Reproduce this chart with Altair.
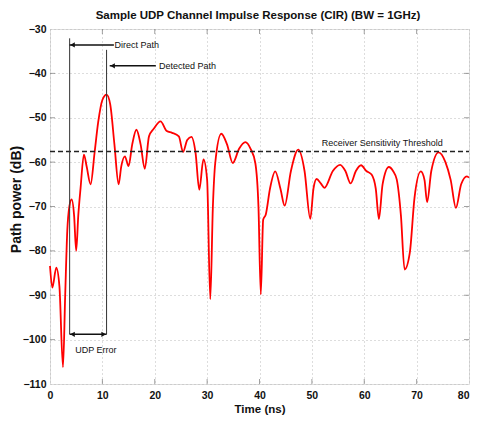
import altair as alt
import pandas as pd

# ---- data ----
time_ns = [0, 0.45, 1.2, 1.8, 2.48, 2.9, 3.3, 3.7, 4.13, 4.6, 5.0, 5.4, 5.84, 6.48, 7.0, 7.75,
           8.5, 9.2, 10.0, 10.8, 11.5, 12.3, 13.1, 13.6, 14.3, 15.0, 15.7, 16.5, 17.3, 18.1,
           18.9, 19.8, 21.1, 22.3, 23.3, 24.6, 25.4, 26.2, 27.0, 27.8, 28.5, 29.3, 30.0, 30.6,
           31.1, 31.55, 32.7, 33.8, 34.9, 36.1, 37.3, 38.3, 39.2, 39.8, 40.25, 40.7, 41.2, 42.0,
           43.0, 44.0, 44.8, 46.0, 47.4, 48.6, 49.7, 50.3, 50.9, 51.7, 52.4, 54.0, 55.4, 56.4,
           57.4, 58.4, 59.4, 60.4, 61.4, 62.2, 62.8, 63.5, 64.7, 65.5, 66.2, 67.0, 67.7, 68.7,
           69.6, 70.8, 71.5, 72.0, 72.8, 74.2, 75.5, 76.5, 77.5, 78.5, 79.6, 80.0]
power_db = [-83.4, -88.3, -83.8, -88.0, -106.2, -90.0, -75.5, -70.0, -68.4, -72.0, -80.0, -72.0,
            -65.8, -58.3, -61.0, -65.0, -58.0, -51.0, -46.0, -44.8, -47.0, -56.0, -65.0, -61.0,
            -58.7, -60.9, -56.0, -52.7, -56.0, -61.5, -54.2, -52.5, -50.8, -53.0, -53.4, -54.2,
            -57.7, -55.0, -54.3, -58.0, -66.2, -59.4, -64.0, -90.9, -70.0, -60.2, -53.6, -56.0,
            -60.2, -57.0, -55.5, -57.0, -60.2, -70.0, -89.8, -73.0, -71.8, -66.0, -62.1, -66.0,
            -69.8, -62.0, -57.2, -62.0, -72.8, -66.0, -63.8, -64.8, -65.8, -62.0, -60.6, -62.0,
            -64.8, -62.0, -60.7, -62.0, -62.8, -66.0, -72.8, -65.0, -61.1, -62.0, -63.9, -72.0,
            -84.2, -80.4, -68.0, -62.1, -64.0, -69.0, -62.0, -57.8, -60.0, -64.0, -70.3, -65.0,
            -63.2, -63.5]

threshold_db = -57.6
x_ticks = [0, 10, 20, 30, 40, 50, 60, 70, 80]
y_ticks = [-30, -40, -50, -60, -70, -80, -90, -100, -110]

# vertical markers: direct path and detected path
marker_t = [3.75, 10.8]
marker_top = [-32.1, -34.7]
marker_bottom = [-98.8, -98.8]

# arrows (start, end, level)
arrow_t1 = [3.75, 11.4, 3.75]
arrow_t2 = [12.2, 20.2, 10.8]
arrow_v = [-33.6, -38.3, -98.8]

# labels
label_text = ["Direct Path", "Detected Path", "Receiver Sensitivity Threshold", "UDP Error"]
label_t = [12.3, 20.8, 51.9, 4.8]
label_v = [-33.6, -38.3, -55.6, -102.4]

# arrowheads
head_t = [4.3, 11.95, 4.3, 10.25]
head_v = [-33.6, -38.3, -98.8, -98.8]
head_shape = ["triangle-left", "triangle-left", "triangle-left", "triangle-right"]

FONT = "Liberation Sans, Arial"
W, H = 419, 355

curve = pd.DataFrame({"t": time_ns, "p": power_db})
xs = alt.Scale(domain=[0, 80], nice=False, zero=False)
ys = alt.Scale(domain=[-110, -30], nice=False, zero=False)

x_axis = alt.Axis(values=x_ticks, grid=True, gridDash=[1, 3], gridColor="#bbbbbb",
                  tickSize=0, domain=False, labelFont=FONT, labelFontSize=10.5,
                  labelFontWeight="bold", labelColor="#111", labelPadding=6,
                  labelAlign={"condition": {"test": "datum.value == 80", "value": "right"},
                              "value": "center"},
                  title="Time (ns)", titleFont=FONT, titleFontSize=11.5,
                  titleFontWeight="bold", titleColor="#111", titlePadding=3,
                  labelFlush=False)
y_axis = alt.Axis(values=y_ticks, grid=True, gridDash=[1, 3], gridColor="#bbbbbb",
                  tickSize=0, domain=False, labelFont=FONT, labelFontSize=10.5,
                  labelFontWeight="bold", labelColor="#111", labelPadding=4,
                  title="Path power (dB)", titleFont=FONT,
                  titleFontSize=14, titleFontWeight="bold", titleColor="#111",
                  titleX=-27, titleY=170, labelFlush=False)

line = alt.Chart(curve).mark_line(color="#ff0000", strokeWidth=1.8,
                                  interpolate="monotone").encode(
    x=alt.X("t:Q", scale=xs, axis=x_axis),
    y=alt.Y("p:Q", scale=ys, axis=y_axis),
)

thr = alt.Chart(pd.DataFrame({"v": [threshold_db]})).mark_rule(
    color="#222", strokeDash=[5, 3], strokeWidth=1.3).encode(
    y=alt.Y("v:Q", scale=ys), x=alt.value(0), x2=alt.value(W))

markers = alt.Chart(pd.DataFrame({"t": marker_t, "a": marker_top, "b": marker_bottom})).mark_rule(
    color="#333", strokeWidth=1).encode(
    x=alt.X("t:Q", scale=xs), y=alt.Y("a:Q", scale=ys), y2="b:Q")

arrows = alt.Chart(pd.DataFrame({"t1": arrow_t1, "t2": arrow_t2, "v": arrow_v})).mark_rule(
    color="#111", strokeWidth=1.5).encode(
    x=alt.X("t1:Q", scale=xs), x2="t2:Q", y=alt.Y("v:Q", scale=ys))

heads = alt.Chart(pd.DataFrame({"t": head_t, "v": head_v, "s": head_shape})).mark_point(
    filled=True, color="#111", size=28, opacity=1).encode(
    x=alt.X("t:Q", scale=xs), y=alt.Y("v:Q", scale=ys),
    shape=alt.Shape("s:N", scale=None, legend=None))

labels = alt.Chart(pd.DataFrame({"txt": label_text, "t": label_t, "v": label_v})).mark_text(
    align="left", baseline="middle", font=FONT, fontSize=9, color="#111").encode(
    x=alt.X("t:Q", scale=xs), y=alt.Y("v:Q", scale=ys), text="txt:N")

# inside tick marks (MATLAB style)
bt = alt.Chart(pd.DataFrame({"t": x_ticks[1:-1]})).mark_tick(
    color="#777", size=5, thickness=1).encode(x=alt.X("t:Q", scale=xs), y=alt.value(H - 2.5))
tt = alt.Chart(pd.DataFrame({"t": x_ticks[1:-1]})).mark_tick(
    color="#777", size=5, thickness=1).encode(x=alt.X("t:Q", scale=xs), y=alt.value(2.5))
lt = alt.Chart(pd.DataFrame({"v": y_ticks[1:-1]})).mark_tick(
    color="#777", size=5, thickness=1).encode(y=alt.Y("v:Q", scale=ys), x=alt.value(2.5))
rt = alt.Chart(pd.DataFrame({"v": y_ticks[1:-1]})).mark_tick(
    color="#777", size=5, thickness=1).encode(y=alt.Y("v:Q", scale=ys), x=alt.value(W - 2.5))

title = alt.Chart(pd.DataFrame({"txt": ["Sample UDP Channel Impulse Response (CIR) (BW = 1GHz)"]})).mark_text(
    align="center", baseline="alphabetic", font=FONT, fontSize=11.5, fontWeight="bold",
    color="#111").encode(text="txt:N", x=alt.value(208), y=alt.value(-10))

chart = alt.layer(line, thr, markers, arrows, heads, labels, bt, tt, lt, rt, title).properties(
    width=W, height=H,
    autosize=alt.AutoSizeParams(type="none"),
    padding={"left": 42, "top": 21, "right": 3, "bottom": 32},
).configure_view(stroke="#999999", strokeWidth=1.5).configure(background="white")

chart.save("out.html", embed_options={"renderer": "svg", "actions": False})
